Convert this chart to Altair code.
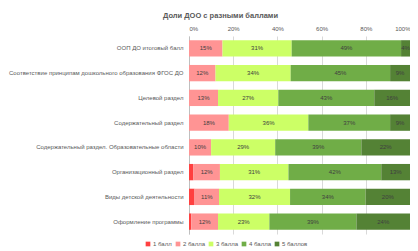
import altair as alt
import pandas as pd

categories = [
    "ООП ДО итоговый балл",
    "Соответствие принципам дошкольного образования ФГОС ДО",
    "Целевой раздел",
    "Содержательный раздел",
    "Содержательный раздел. Образовательные области",
    "Организационный раздел",
    "Виды детской деятельности",
    "Оформление программы",
]
series = ["1 балл", "2 балла", "3 балла", "4 балла", "5 баллов"]
b1 = [0, 0, 0, 0, 0, 2, 2.5, 1]
b2 = [15, 12, 13, 18, 10, 12, 11, 12]
b3 = [31, 34, 27, 36, 29, 31, 32, 23]
b4 = [49, 45, 43, 37, 39, 42, 34, 39]
b5 = [4, 9, 16, 9, 22, 13, 20, 24]
colors = ["#FF4040", "#FF9494", "#CCFF66", "#70AD47", "#548235"]

FONT = "Liberation Sans"

rows = []
for i, c in enumerate(categories):
    for j, (s, vals) in enumerate(zip(series, [b1, b2, b3, b4, b5])):
        rows.append({"cat": c, "series": s, "order": j, "value": vals[i],
                     "label": f"{vals[i]:g}%" if j > 0 else ""})
df = pd.DataFrame(rows)

base = alt.Chart(df).transform_stack(
    stack="value", groupby=["cat"], sort=[alt.SortField("order")],
    offset="normalize", as_=["x0", "x1"]
).transform_calculate(mid="(datum.x0 + datum.x1) / 2")

y_enc = alt.Y("cat:N", sort=categories, title=None,
              scale=alt.Scale(paddingInner=0.34, paddingOuter=0.17),
              axis=alt.Axis(labelFontSize=6, labelColor="#595959", labelFont=FONT,
                            ticks=False, domainColor="#BFBFBF", labelPadding=6,
                            labelLimit=400, grid=False))

bars = base.mark_bar(stroke=None).encode(
    x=alt.X("x0:Q", scale=alt.Scale(domain=[0, 1]),
            axis=alt.Axis(orient="top", format="%", values=[i / 10 for i in range(11)],
                          labelFontSize=6, labelColor="#595959", labelFont=FONT,
                          ticks=False, domain=False, gridColor="#D9D9D9", labelPadding=5,
                          title=None)),
    x2="x1:Q",
    y=y_enc,
    color=alt.Color("series:N", sort=series,
                    scale=alt.Scale(domain=series, range=colors),
                    legend=alt.Legend(title=None, orient="none", legendX=-44, legendY=205,
                                      direction="horizontal", columns=5,
                                      symbolType="square", symbolSize=22, symbolStrokeWidth=0,
                                      labelFontSize=6, labelColor="#595959", labelOffset=2,
                                      labelFont=FONT, columnPadding=3)),
    order=alt.Order("order:Q"),
)

text = base.transform_filter("datum.order > 0").mark_text(
    fontSize=6, color="#404040", font=FONT
).encode(
    x="mid:Q",
    y=alt.Y("cat:N", sort=categories),
    text="label:N",
)

chart = (bars + text).properties(
    width=221, height=198,
    autosize=alt.AutoSizeParams(type="none"),
    padding={"left": 181, "top": 28, "right": 0, "bottom": 17},
    title=alt.TitleParams("Доли ДОО с разными баллами", fontSize=7.5, color="#595959",
                          font=FONT, fontWeight="bold", anchor="middle", frame="group",
                          dx=-79, offset=6),
).configure_view(stroke=None)

chart.save("out.html", embed_options={"renderer": "svg", "actions": False})
